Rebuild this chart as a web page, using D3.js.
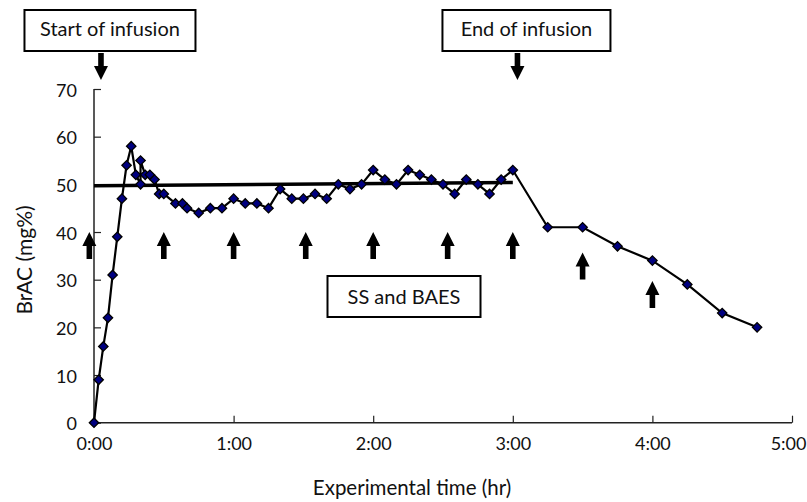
<!DOCTYPE html>
<html>
<head>
<meta charset="utf-8">
<script src="https://cdn.jsdelivr.net/npm/d3@7"></script>
<style>
  html, body { margin: 0; padding: 0; background: #fff; }
  svg { display: block; font-family: Lato, "Open Sans", sans-serif; }
</style>
</head>
<body>
<div id="viz"></div>
<script>
// BrAC readings: time in minutes since start, value in mg%
const times  = [0, 2, 4, 6, 8, 10, 12, 14, 16, 18, 20, 20, 22, 24, 26, 28, 30, 35, 38, 40,
                45, 50, 55, 60, 65, 70, 75, 80, 85, 90, 95, 100, 105, 110, 115, 120, 125, 130,
                135, 140, 145, 150, 155, 160, 165, 170, 175, 180, 195, 210, 225, 240, 255, 270, 285];
const brac   = [0, 9, 16, 22, 31, 39, 47, 54, 58, 52, 50, 55, 52, 52, 51, 48, 48, 46, 46, 45,
                44, 45, 45, 47, 46, 46, 45, 49, 47, 47, 48, 47, 50, 49, 50, 53, 51, 50,
                53, 52, 51, 50, 48, 51, 50, 48, 51, 53, 41, 41, 37, 34, 29, 23, 20];

// steady-state level line (start, end)
const ssTimes  = [0, 180];
const ssValues = [49.7, 50.4];

// sampling arrows (SS and BAES) : time, tip value
const arrowTimes  = [-2, 30, 60, 91, 120, 152, 180, 210, 240];
const arrowValues = [40, 40, 40, 40, 40, 40, 40, 35.7, 29.7];

// infusion events
const events     = ['Start of infusion', 'End of infusion'];
const eventTimes = [3, 182];

const xTicks  = [0, 60, 120, 180, 240, 300];
const xLabels = ['0:00', '1:00', '2:00', '3:00', '4:00', '5:00'];
const yTicks  = [0, 10, 20, 30, 40, 50, 60, 70];

const W = 807, H = 502;
const svg = d3.select('#viz').append('svg').attr('width', W).attr('height', H);

const x = d3.scaleLinear().domain([0, 300]).range([94, 792]);
const y = d3.scaleLinear().domain([0, 70]).range([422.7, 89]);

// axes (ticks point inward)
const xAxis = svg.append('g').attr('transform', `translate(0,${y(0)})`)
  .call(d3.axisBottom(x).tickValues(xTicks).tickSize(-7).tickFormat((d,i)=> xLabels[i]).tickPadding(15));
const yAxis = svg.append('g').attr('transform', `translate(${x(0)},0)`)
  .call(d3.axisLeft(y).tickValues(yTicks).tickSize(-7).tickPadding(17));

[xAxis, yAxis].forEach(g => {
  g.select('.domain').attr('stroke', '#222').attr('stroke-width', 1.5);
  g.selectAll('.tick line').attr('stroke', '#222').attr('stroke-width', 1.2);
  g.selectAll('.tick text').attr('fill', '#111')
    .style('font-family', 'Lato, sans-serif').style('font-size', '18px');
});
xAxis.select('.domain').attr('d', `M${x(0)},0H${x(300)}`);
yAxis.select('.domain').attr('d', `M0,${y(0)}V${y(70)}`);
yAxis.selectAll('.tick text').attr('dy', '0.4em');
// last label sits against the right edge, as in the source
xAxis.selectAll('.tick text').filter(d => d === 300).attr('text-anchor', 'end').attr('dx', '14');

// axis titles
svg.append('text').attr('x', 412).attr('y', 495).attr('text-anchor', 'middle')
  .style('font-size', '20.5px').attr('fill', '#111').text('Experimental time (hr)');
svg.append('text').attr('transform', 'translate(32,260) rotate(-90)').attr('text-anchor', 'middle')
  .style('font-size', '21px').attr('fill', '#111').text('BrAC (mg%)');

// steady-state line
svg.append('line')
  .attr('x1', x(ssTimes[0])).attr('y1', y(ssValues[0]))
  .attr('x2', x(ssTimes[1])).attr('y2', y(ssValues[1]))
  .attr('stroke', '#000').attr('stroke-width', 3.5);

// data line
const pts = times.map((t,i)=> [t, brac[i]]);
svg.append('path').datum(pts)
  .attr('fill', 'none').attr('stroke', '#000').attr('stroke-width', 2.2)
  .attr('d', d3.line().x(d=> x(d[0])).y(d=> y(d[1])));

const diamond = d3.symbol().type(d3.symbolSquare).size(44);
svg.append('g').selectAll('path').data(pts).join('path')
  .attr('d', diamond)
  .attr('transform', d=> `translate(${x(d[0])},${y(d[1])}) rotate(45)`)
  .attr('fill', '#000080').attr('stroke', '#000').attr('stroke-width', 1.3);

// arrow shape: tip at (0,0) pointing up, 27px long
const arrowPath = 'M0,0 L7,14 L2.8,14 L2.8,27 L-2.8,27 L-2.8,14 L-7,14 Z';

svg.append('g').selectAll('path').data(arrowTimes).join('path')
  .attr('d', arrowPath)
  .attr('transform', (t,i)=> `translate(${x(t)},${y(arrowValues[i])})`)
  .attr('fill', '#000');

// SS and BAES box
const ssBox = svg.append('g');
ssBox.append('rect').attr('x', 327.5).attr('y', 276).attr('width', 153).attr('height', 41)
  .attr('fill', '#fff').attr('stroke', '#000').attr('stroke-width', 2);
ssBox.append('text').attr('x', 404).attr('y', 304).attr('text-anchor', 'middle')
  .style('font-size', '20px').attr('fill', '#111').text('SS and BAES');

// infusion event boxes with down arrows
const boxW = [171, 168];
events.forEach((label, i) => {
  const cx = x(eventTimes[i]) + 9;
  const g = svg.append('g');
  g.append('rect').attr('x', cx - boxW[i]/2).attr('y', 10).attr('width', boxW[i]).attr('height', 41)
    .attr('fill', '#fff').attr('stroke', '#000').attr('stroke-width', 2);
  g.append('text').attr('x', cx).attr('y', 36).attr('text-anchor', 'middle')
    .style('font-size', '20px').attr('fill', '#111').text(label);
  g.append('path').attr('d', arrowPath)
    .attr('transform', `translate(${x(eventTimes[i])},80) rotate(180)`)
    .attr('fill', '#000');
});
</script>
</body>
</html>
